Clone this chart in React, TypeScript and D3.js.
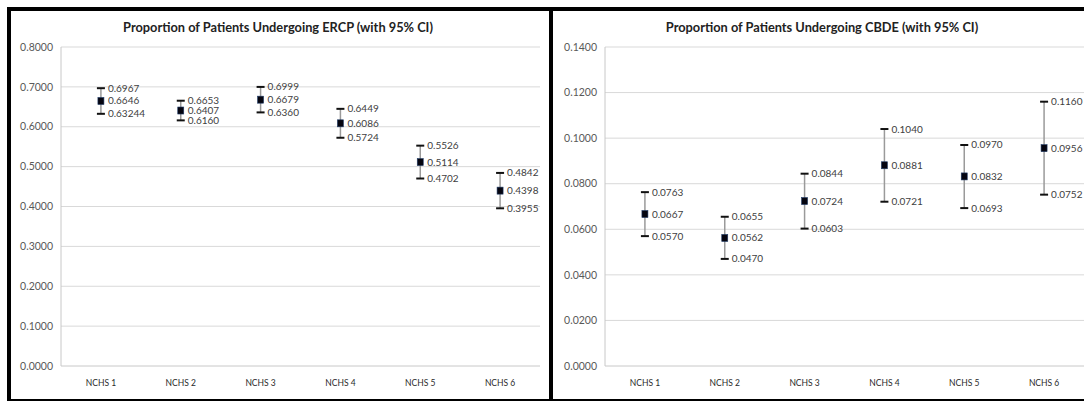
import React from "react";
import * as d3 from "d3";

const categories = ["NCHS 1", "NCHS 2", "NCHS 3", "NCHS 4", "NCHS 5", "NCHS 6"];

const ercpMean = [0.6646, 0.6407, 0.6679, 0.6086, 0.5114, 0.4398];
const ercpUpper = [0.6967, 0.6653, 0.6999, 0.6449, 0.5526, 0.4842];
const ercpLower = [0.63244, 0.616, 0.636, 0.5724, 0.4702, 0.3955];
const ercpTicks = [0, 0.1, 0.2, 0.3, 0.4, 0.5, 0.6, 0.7, 0.8];

const cbdeMean = [0.0667, 0.0562, 0.0724, 0.0881, 0.0832, 0.0956];
const cbdeUpper = [0.0763, 0.0655, 0.0844, 0.104, 0.097, 0.116];
const cbdeLower = [0.057, 0.047, 0.0603, 0.0721, 0.0693, 0.0752];
const cbdeTicks = [0, 0.02, 0.04, 0.06, 0.08, 0.1, 0.12, 0.14];

const ercpTitle = "Proportion of Patients Undergoing ERCP (with 95% CI)";
const cbdeTitle = "Proportion of Patients Undergoing CBDE (with 95% CI)";

const FONT = "Lato, 'Open Sans', sans-serif";

function fmt(v: number): string {
  const s = String(v);
  const dec = s.includes(".") ? s.split(".")[1].length : 0;
  return v.toFixed(Math.max(4, dec));
}

type PanelProps = {
  title: string;
  mean: number[];
  upper: number[];
  lower: number[];
  ticks: number[];
  x0: number;
  x1: number;
  labelRight: number;
  titleX: number;
};

function Panel({ title, mean, upper, lower, ticks, x0, x1, labelRight, titleX }: PanelProps) {
  const top = 47;
  const bottom = 366;
  const y = d3.scaleLinear().domain([0, d3.max(ticks) as number]).range([bottom, top]);
  const x = d3.scaleBand<string>().domain(categories).range([x0, x1]);
  const cx = (c: string) => (x(c) as number) + x.bandwidth() / 2;
  return (
    <g>
      <text x={titleX} y={32} textAnchor="middle" fontFamily={FONT} fontWeight="bold" fontSize={12.8} fill="#222">
        {title}
      </text>
      {ticks.map((t) => (
        <g key={t}>
          <line x1={x0} x2={x1} y1={y(t)} y2={y(t)} stroke={t === 0 ? "#c8c8c8" : "#d9d9d9"} strokeWidth={1} />
          <text x={labelRight} y={y(t)} dy="0.35em" textAnchor="end" fontFamily={FONT} fontSize={10.5} fill="#595959">
            {t.toFixed(4)}
          </text>
        </g>
      ))}
      <line x1={x0} x2={x0} y1={top} y2={bottom} stroke="#c8c8c8" strokeWidth={1} />
      {categories.map((c) => (
        <text key={c} x={cx(c)} y={386} textAnchor="middle" fontFamily={FONT} fontSize={8.5} fill="#2a2a2a">
          {c}
        </text>
      ))}
      {categories.map((c, i) => {
        const px = cx(c);
        return (
          <g key={"e" + c}>
            <line x1={px} x2={px} y1={y(upper[i])} y2={y(lower[i])} stroke="#9a9a9a" strokeWidth={1.5} />
            <line x1={px - 4} x2={px + 4} y1={y(upper[i])} y2={y(upper[i])} stroke="#111" strokeWidth={2} />
            <line x1={px - 4} x2={px + 4} y1={y(lower[i])} y2={y(lower[i])} stroke="#111" strokeWidth={2} />
            <rect x={px - 3} y={y(mean[i]) - 3.5} width={6} height={7} fill="#050510" stroke="#1f3a66" strokeWidth={0.6} />
            <text x={px + 7} y={y(upper[i])} dy="0.35em" fontFamily={FONT} fontSize={10} fill="#404040">
              {fmt(upper[i])}
            </text>
            <text x={px + 7} y={y(mean[i])} dy="0.35em" fontFamily={FONT} fontSize={10} fill="#404040">
              {fmt(mean[i])}
            </text>
            <text x={px + 7} y={y(lower[i])} dy="0.35em" fontFamily={FONT} fontSize={10} fill="#404040">
              {fmt(lower[i])}
            </text>
          </g>
        );
      })}
    </g>
  );
}

export default function App() {
  return (
    <div style={{ position: "absolute", left: 0, top: 0 }}>
      <svg width={1084} height={401} style={{ display: "block", background: "#fff" }}>
        <rect x={0} y={0} width={1084} height={401} fill="#fff" />
        <Panel
          title={ercpTitle}
          mean={ercpMean}
          upper={ercpUpper}
          lower={ercpLower}
          ticks={ercpTicks}
          x0={61}
          x1={540}
          labelRight={53}
          titleX={278}
        />
        <Panel
          title={cbdeTitle}
          mean={cbdeMean}
          upper={cbdeUpper}
          lower={cbdeLower}
          ticks={cbdeTicks}
          x0={605}
          x1={1084}
          labelRight={597}
          titleX={822}
        />
        <rect x={9} y={9} width={542} height={392} fill="none" stroke="#000" strokeWidth={4} />
        <rect x={551} y={9} width={545} height={392} fill="none" stroke="#000" strokeWidth={4} />
      </svg>
    </div>
  );
}
